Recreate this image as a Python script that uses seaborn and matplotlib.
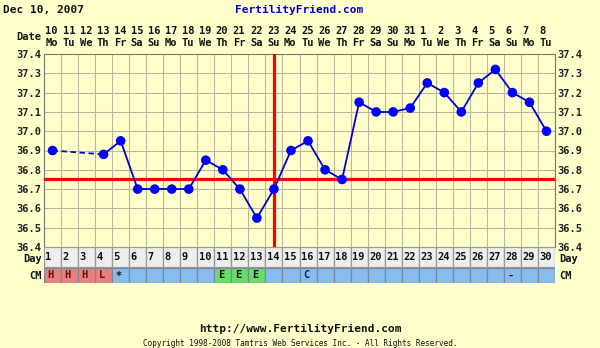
import numpy as np
import pandas as pd
import matplotlib
matplotlib.use("Agg")
import matplotlib.pyplot as plt
from matplotlib.patches import Rectangle
import seaborn as sns

# ---------------- data ----------------
days = list(range(1, 31))
dates = ["10", "11", "12", "13", "14", "15", "16", "17", "18", "19", "20", "21", "22", "23", "24",
         "25", "26", "27", "28", "29", "30", "31", "1", "2", "3", "4", "5", "6", "7", "8"]
weekdays = ["Mo", "Tu", "We", "Th", "Fr", "Sa", "Su", "Mo", "Tu", "We", "Th", "Fr", "Sa", "Su", "Mo",
            "Tu", "We", "Th", "Fr", "Sa", "Su", "Mo", "Tu", "We", "Th", "Fr", "Sa", "Su", "Mo", "Tu"]
temps = [36.90, None, None, 36.88, 36.95, 36.70, 36.70, 36.70, 36.70, 36.85,
         36.80, 36.70, 36.55, 36.70, 36.90, 36.95, 36.80, 36.75, 37.15, 37.10,
         37.10, 37.12, 37.25, 37.20, 37.10, 37.25, 37.32, 37.20, 37.15, 37.00]
cm = ["H", "H", "H", "L", "*", "", "", "", "", "", "E", "E", "E", "", "",
      "C", "", "", "", "", "", "", "", "", "", "", "", "-", "", ""]
coverline = 36.75
ovulation_day = 14
y_ticks = [36.4, 36.5, 36.6, 36.7, 36.8, 36.9, 37.0, 37.1, 37.2, 37.3, 37.4]

# ---------------- style ----------------
BG = "#FFFFCC"
GRID = "#B8B8A0"
MONO = "DejaVu Sans Mono"
W, H = 600, 348

fig = plt.figure(figsize=(6, 3.48), dpi=100, facecolor=BG)


def fx(x):
    return x / W


def fy(y):
    return 1 - y / H


ax = fig.add_axes([fx(44), fy(247), 511 / W, 193 / H])
ax.set_facecolor(BG)

df = pd.DataFrame({"day": days, "temp": temps}).dropna()
valid = df.reset_index(drop=True)

# segments: solid for consecutive days, dashed across gaps
for i in range(len(valid) - 1):
    a, b = valid.iloc[i], valid.iloc[i + 1]
    seg = pd.DataFrame({"day": [a.day, b.day], "temp": [a.temp, b.temp]})
    ls = "-" if b.day - a.day == 1 else (0, (3, 2))
    sns.lineplot(data=seg, x="day", y="temp", ax=ax, color="#0000CC", linewidth=1.3,
                 linestyle=ls, zorder=4, legend=False)

sns.scatterplot(data=valid, x="day", y="temp", ax=ax, color="#0000FF", s=48,
                edgecolor="none", zorder=5, legend=False)

ax.axhline(coverline, color="#FF0000", linewidth=2.3, zorder=3)
ax.axvline(ovulation_day, color="#FF0000", linewidth=2.3, zorder=3)

ax.set_xlim(0.5, 30.5)
ax.set_ylim(36.4, 37.4)
ax.set_xticks(np.arange(0.5, 31, 1))
ax.set_xticklabels([])
ax.set_yticks(y_ticks)
ax.set_yticklabels([f"{v:.1f}" for v in y_ticks])
ax.tick_params(axis="x", length=0)
ax.tick_params(axis="y", length=0, pad=2, labelright=True, labelsize=7.5,
               labelcolor="#222222")
for lab in ax.get_yticklabels():
    lab.set_family(MONO)
    lab.set_weight("bold")
ax.grid(True, color=GRID, linewidth=0.8, zorder=0)
ax.set_axisbelow(True)
ax.set_xlabel("")
ax.set_ylabel("")
for s in ax.spines.values():
    s.set_color("#777777")
    s.set_linewidth(0.8)

# ---------------- day / CM rows ----------------
tab = fig.add_axes([fx(44), fy(283), 511 / W, 36 / H])
tab.set_xlim(0.5, 30.5)
tab.set_ylim(36, 0)
tab.axis("off")
cm_colors = {"H": "#E88080", "L": "#E88080", "E": "#66DD66"}
for d, c in zip(days, cm):
    tab.add_patch(Rectangle((d - 0.5, 0), 1, 20, facecolor="#EEEEEE",
                            edgecolor="#999999", linewidth=0.9))
    tab.text(d - 0.42, 10.5, str(d), ha="left", va="center", family=MONO,
             weight="bold", fontsize=7.5, color="#111111")
    tab.add_patch(Rectangle((d - 0.5, 20.5), 1, 15, facecolor=cm_colors.get(c, "#88BBEE"),
                            edgecolor="#7A8A99", linewidth=0.9))
    if c:
        tcol = "#661111" if c in ("H", "L") else ("#112244" if c == "C" else "#111111")
        tab.text(d - 0.3, 28.5, c, ha="left", va="center", family=MONO,
                 weight="bold", fontsize=7.5, color=tcol)

# ---------------- texts ----------------
for d, dt, wd in zip(days, dates, weekdays):
    x = fx(44 + (d - 1) * 511 / 30 + 1.5)
    fig.text(x, fy(31), dt, ha="left", va="center", family=MONO, weight="bold",
             fontsize=7.5, color="#111111")
    fig.text(x, fy(43), wd, ha="left", va="center", family=MONO, weight="bold",
             fontsize=7.5, color="#111111")

fig.text(fx(41), fy(37), "Date", ha="right", va="center", family=MONO, weight="bold",
         fontsize=7.5, color="#111111")
fig.text(fx(42), fy(259), "Day", ha="right", va="center", family=MONO, weight="bold",
         fontsize=7.5, color="#111111")
fig.text(fx(42), fy(276), "CM", ha="right", va="center", family=MONO, weight="bold",
         fontsize=7.5, color="#111111")
fig.text(fx(559), fy(259), "Day", ha="left", va="center", family=MONO, weight="bold",
         fontsize=7.5, color="#111111")
fig.text(fx(559), fy(276), "CM", ha="left", va="center", family=MONO, weight="bold",
         fontsize=7.5, color="#111111")

fig.text(fx(3), fy(10), "Dec 10, 2007", ha="left", va="center", family=MONO,
         weight="bold", fontsize=8, color="#111111")
fig.text(fx(299), fy(10), "FertilityFriend.com", ha="center", va="center", family=MONO,
         weight="bold", fontsize=8, color="#0000CC")
fig.text(fx(300), fy(329), "http://www.FertilityFriend.com", ha="center", va="center",
         family=MONO, weight="bold", fontsize=8, color="#111111")
fig.text(fx(300), fy(343), "Copyright 1998-2008 Tamtris Web Services Inc. - All Rights Reserved.",
         ha="center", va="center", family=MONO, fontsize=5.5, color="#111111")

fig.savefig("out.png", dpi=100, facecolor=BG)
